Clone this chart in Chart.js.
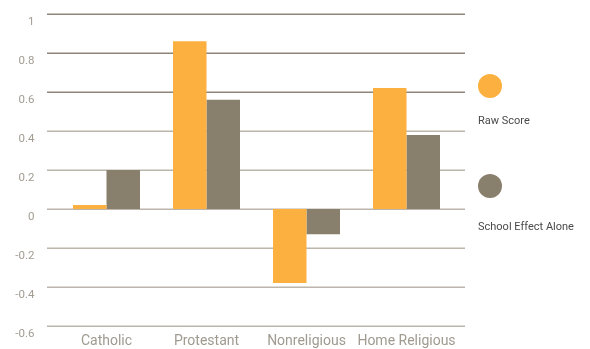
<!DOCTYPE html>
<html>
<head>
<meta charset="utf-8">
<script src="https://cdn.jsdelivr.net/npm/chart.js@4.4.1/dist/chart.umd.min.js"></script>
<style>
  html, body { margin: 0; padding: 0; background: #fff; }
  #wrap { position: relative; width: 590px; height: 349px; }
  #chart { position: absolute; left: 0; top: 0; }
  .legend-item { position: absolute; left: 478px; font-family: Roboto, sans-serif; font-size: 11px; color: #4a4a4a; }
  .legend-dot { width: 24px; height: 24px; border-radius: 50%; }
  .legend-label { white-space: nowrap; }
</style>
</head>
<body>
<div id="wrap">
  <canvas id="chart" width="590" height="349"></canvas>
  <div id="legend"></div>
</div>
<script>
// chart data
const categories = ['Catholic', 'Protestant', 'Nonreligious', 'Home Religious'];
const rawScore = [0.02, 0.86, -0.38, 0.62];
const schoolEffect = [0.2, 0.56, -0.13, 0.38];
const seriesNames = ['Raw Score', 'School Effect Alone'];
const yTicks = [1, 0.8, 0.6, 0.4, 0.2, 0, -0.2, -0.4, -0.6];

const ORANGE = '#fbb040';
const TAUPE = '#897f6d';

// y gridlines run a bit wider than the bar area, so draw them ourselves
const wideGrid = {
  id: 'wideGrid',
  beforeDatasetsDraw(chart) {
    const { ctx, chartArea, scales } = chart;
    ctx.save();
    ctx.lineWidth = 1.5;
    yTicks.forEach(v => {
      const y = Math.round(scales.y.getPixelForValue(v)) + 0.25;
      ctx.strokeStyle = v >= 0.6 ? '#8e8678' : '#bcb6ad';
      ctx.beginPath();
      ctx.moveTo(chartArea.left - 9.5, y);
      ctx.lineTo(chartArea.right + 8.5, y);
      ctx.stroke();
    });
    ctx.restore();
  }
};

const chart = new Chart(document.getElementById('chart'), {
  type: 'bar',
  data: {
    labels: categories,
    datasets: [
      { label: seriesNames[0], data: rawScore, backgroundColor: ORANGE },
      { label: seriesNames[1], data: schoolEffect, backgroundColor: TAUPE }
    ]
  },
  options: {
    responsive: false,
    animation: false,
    layout: { padding: { top: 14, right: 133.5, left: 0, bottom: 0 } },
    datasets: { bar: { barPercentage: 1, categoryPercentage: 0.67 } },
    plugins: { legend: { display: false }, tooltip: { enabled: false } },
    scales: {
      x: {
        grid: { display: false, drawTicks: false },
        border: { display: false },
        ticks: { color: '#a09a90', font: { family: 'Roboto', size: 14 }, padding: 7, maxRotation: 0, autoSkip: false },
        afterFit: s => { s.height = 23; }
      },
      y: {
        min: -0.6,
        max: 1,
        afterBuildTicks: s => { s.ticks = yTicks.map(v => ({ value: v })); },
        grid: { display: false, drawTicks: false },
        border: { display: false },
        ticks: {
          color: '#a29c92',
          font: { family: 'Roboto', size: 11.5 },
          padding: 22,
          labelOffset: 8.5,
          callback: v => String(Math.round(v * 10) / 10)
        },
        afterFit: s => { s.width = 56.5; s.paddingTop = 0; s.paddingBottom = 0; }
      }
    }
  },
  plugins: [wideGrid]
});

// legend: dot on top, label under it
const legendTops = [74, 174];
const labelGaps = [16, 22];
const legendEl = document.getElementById('legend');
chart.data.datasets.forEach((ds, i) => {
  const item = document.createElement('div');
  item.className = 'legend-item';
  item.style.top = legendTops[i] + 'px';
  item.innerHTML = '<div class="legend-dot" style="background:' + ds.backgroundColor + '"></div>' +
    '<div class="legend-label" style="margin-top:' + labelGaps[i] + 'px">' + ds.label + '</div>';
  legendEl.appendChild(item);
});
</script>
</body>
</html>
